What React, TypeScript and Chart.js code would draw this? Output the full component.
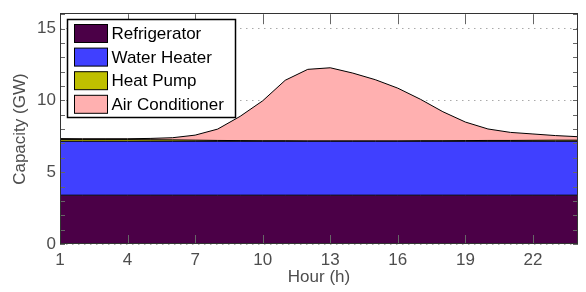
import React, { useEffect, useRef } from "react";
import { Chart, registerables } from "chart.js";

Chart.register(...registerables);

const hours = [1, 2, 3, 4, 5, 6, 7, 8, 9, 10, 11, 12, 13, 14, 15, 16, 17, 18, 19, 20, 21, 22, 23, 24];
const refrigerator = [3.4, 3.4, 3.4, 3.4, 3.4, 3.4, 3.4, 3.4, 3.4, 3.4, 3.4, 3.4, 3.4, 3.4, 3.4, 3.4, 3.4, 3.4, 3.4, 3.4, 3.4, 3.4, 3.4, 3.4];
const waterHeater = [3.75, 3.75, 3.75, 3.75, 3.75, 3.75, 3.75, 3.75, 3.75, 3.75, 3.75, 3.75, 3.75, 3.75, 3.75, 3.75, 3.75, 3.75, 3.75, 3.75, 3.75, 3.75, 3.75, 3.75];
const heatPump = [0.12, 0.12, 0.12, 0.12, 0.11, 0.1, 0.08, 0.06, 0.05, 0.04, 0.04, 0.03, 0.03, 0.03, 0.03, 0.03, 0.04, 0.04, 0.05, 0.06, 0.06, 0.07, 0.08, 0.08];
const airConditioner = [0.07, 0.06, 0.06, 0.06, 0.09, 0.15, 0.35, 0.79, 1.69, 2.78, 4.21, 4.98, 5.09, 4.72, 4.26, 3.67, 2.89, 2.02, 1.29, 0.8, 0.56, 0.44, 0.32, 0.24];

const xTicks = [1, 4, 7, 10, 13, 16, 19, 22];
const yTicks = [0, 5, 10, 15];
const yMinorTicks = [1, 2, 3, 4, 6, 7, 8, 9, 11, 12, 13, 14, 16];

const seriesNames = ["Refrigerator", "Water Heater", "Heat Pump", "Air Conditioner"];
const seriesColors = ["#4b0047", "#4040ff", "#bfbf00", "#ffb0b0"];

const FONT = "'Liberation Sans', Arial, Helvetica, sans-serif";
const GRAY = "#4d4d4d";

const framePlugin = {
  id: "frameAndLegend",
  afterDatasetsDraw(chart: any) {
    const { ctx, chartArea } = chart;
    const { left, right, top, bottom } = chartArea;
    const xs = chart.scales.x;
    const ys = chart.scales.y;
    ctx.save();
    ctx.strokeStyle = "#666";
    ctx.lineWidth = 1;
    ctx.beginPath();
    xTicks.forEach((v) => {
      const px = Math.round(xs.getPixelForValue(v)) + 0.5;
      ctx.moveTo(px, bottom);
      ctx.lineTo(px, bottom - 9);
      ctx.moveTo(px, top);
      ctx.lineTo(px, top + 10);
    });
    yTicks.concat(yMinorTicks).forEach((v) => {
      const py = Math.round(ys.getPixelForValue(v)) + 0.5;
      ctx.moveTo(left, py);
      ctx.lineTo(left + 5, py);
      ctx.moveTo(right, py);
      ctx.lineTo(right - 5, py);
    });
    ctx.stroke();
    ctx.strokeStyle = "#333";
    ctx.strokeRect(Math.round(left) + 0.5, Math.round(top) - 0.5, Math.round(right - left) - 1, Math.round(bottom - top));

    const lx = Math.round(left) + 7.5;
    const ly = Math.round(top) + 5.5;
    const lw = 168;
    const lh = 98;
    ctx.fillStyle = "#fff";
    ctx.fillRect(lx, ly, lw, lh);
    ctx.strokeStyle = "#000";
    ctx.lineWidth = 1.5;
    ctx.strokeRect(lx, ly, lw, lh);
    ctx.lineWidth = 1;
    ctx.font = `17px ${FONT}`;
    ctx.textBaseline = "middle";
    ctx.textAlign = "left";
    seriesNames.forEach((name, i) => {
      const sy = ly + 5 + i * 23.6;
      ctx.fillStyle = seriesColors[i];
      ctx.fillRect(lx + 7, sy, 33, 18);
      ctx.strokeStyle = "#000";
      ctx.strokeRect(lx + 7, sy, 33, 18);
      ctx.fillStyle = "#000";
      ctx.fillText(name, lx + 44, sy + 10);
    });
    ctx.restore();
  },
};

export default function App() {
  const ref = useRef<HTMLCanvasElement | null>(null);
  useEffect(() => {
    if (!ref.current) return;
    const series = [refrigerator, waterHeater, heatPump, airConditioner];
    const chart = new Chart(ref.current, {
      type: "line",
      data: {
        labels: hours,
        datasets: series.map((vals, i) => ({
          label: seriesNames[i],
          data: vals.map((v, j) => ({ x: hours[j], y: v })),
          backgroundColor: seriesColors[i],
          borderColor: "#000",
          borderWidth: 1,
          pointRadius: 0,
          tension: 0,
          fill: i === 0 ? "origin" : "-1",
        })),
      },
      options: {
        responsive: false,
        animation: false,
        layout: { padding: { top: 1, right: 8, left: 0, bottom: 0 } },
        plugins: { legend: { display: false }, tooltip: { enabled: false } },
        scales: {
          x: {
            type: "linear",
            min: 1,
            max: 24,
            afterBuildTicks: (s: any) => {
              s.ticks = xTicks.map((v) => ({ value: v }));
            },
            afterFit: (s: any) => {
              s.height = 48;
            },
            ticks: { font: { family: FONT, size: 17 }, color: GRAY, padding: 6, maxRotation: 0, autoSkip: false },
            grid: { display: false, drawTicks: false },
            border: { display: false },
            title: { display: true, text: "Hour (h)", font: { family: FONT, size: 17 }, color: GRAY, padding: { top: 0, bottom: 4 } },
          },
          y: {
            stacked: true,
            min: 0,
            max: 16,
            afterBuildTicks: (s: any) => {
              s.ticks = yTicks.map((v) => ({ value: v }));
            },
            afterFit: (s: any) => {
              s.width = 60;
            },
            ticks: { font: { family: FONT, size: 17 }, color: GRAY, padding: 4 },
            grid: { color: "#aaaaaa", drawTicks: false },
            border: { display: false, dash: [1.5, 4.5] },
            title: { display: true, text: "Capacity (GW)", font: { family: FONT, size: 17 }, color: GRAY, padding: { top: 10, bottom: 0 } },
          },
        },
      },
      plugins: [framePlugin],
    });
    return () => chart.destroy();
  }, []);
  return (
    <div style={{ position: "fixed", left: 0, top: 0, width: 586, height: 292, background: "#fff" }}>
      <canvas ref={ref} width={586} height={292} style={{ display: "block" }} />
    </div>
  );
}
